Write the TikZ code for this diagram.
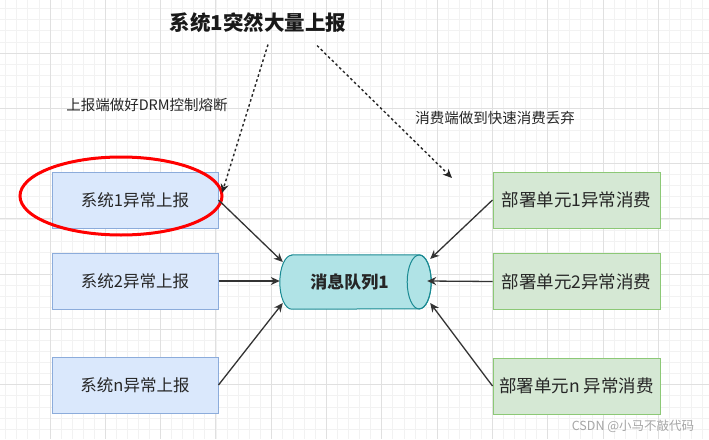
\documentclass[tikz,border=0pt]{standalone}
\usepackage{fontspec}
\setmainfont{Noto Sans CJK SC}
\usetikzlibrary{calc, arrows.meta}

\definecolor{sysfill}{HTML}{DAE8FC}
\definecolor{sysline}{HTML}{8CACDB}
\definecolor{depfill}{HTML}{D5E8D4}
\definecolor{depline}{HTML}{8CC876}
\definecolor{qfill}{HTML}{B0E3E6}
\definecolor{qline}{HTML}{1A8A93}
\definecolor{txt}{HTML}{262626}

\begin{document}
\begin{tikzpicture}[x=1pt, y=-1pt,
	minorline/.style={draw=black!5, line width=0.8pt},
	majorline/.style={draw=black!12, line width=0.9pt},
	sysbox/.style={draw=sysline, fill=sysfill, line width=1pt, minimum width=166pt, minimum height=56pt, text=txt, font=\fontsize{16.5}{18}\selectfont},
	depbox/.style={draw=depline, fill=depfill, line width=1pt, minimum width=167pt, minimum height=56pt, text=txt, font=\fontsize{17.5}{19}\selectfont},
	feed/.style={draw=black!80, line width=1.3pt, -{Stealth[length=9pt, width=8pt]}},
	hint/.style={draw=black!85, line width=1.4pt, dash pattern=on 2.6pt off 2.6pt, -{Stealth[length=9pt, width=8pt]}},
	note/.style={text=txt, font=\fontsize{14.5}{16}\selectfont}]

	\useasboundingbox (0,0) rectangle (709,439);
	\fill[white] (0,0) rectangle (709,439);
	\clip (0,0) rectangle (709,439);

	% grid
	\foreach \i in {0,...,64} \draw[minorline] ({5.76+\i*11.06},0) -- ({5.76+\i*11.06},439);
	\foreach \j in {0,...,39} \draw[minorline] (0,{8.76+\j*11.06}) -- (709,{8.76+\j*11.06});
	\foreach \i in {0,...,12} \draw[majorline] ({50+\i*55.3},0) -- ({50+\i*55.3},439);
	\foreach \j in {-1,...,7} \draw[majorline] (0,{53+\j*55.3}) -- (709,{53+\j*55.3});

	\node[text=black!90, font=\fontsize{20.5}{22}\selectfont\bfseries] (title) at (258,23) {系统1突然大量上报};
	\node[note] (drm) at (147,105) {上报端做好DRM控制熔断};
	\node[note] (drop) at (495,118) {消费端做到快速消费丢弃};

	\node[sysbox] (sys1) at (135,200) {系统1异常上报};
	\node[sysbox] (sys2) at (135,281) {系统2异常上报};
	\node[sysbox] (sysn) at (135,385) {系统n异常上报};

	\node[depbox] (dep1) at (576.5,200) {部署单元1异常消费};
	\node[depbox] (dep2) at (576.5,281.5) {部署单元2异常消费};
	\node[depbox] (depn) at (576.5,386) {部署单元n 异常消费};

	% queue body, cap drawn by hand
	\node[minimum width=139pt, minimum height=54pt, inner sep=0pt] (queue) at (349.5,282) {};
	\draw[qline, fill=qfill, line width=1pt] ($(queue.north west)+(12,0)$) -- (queue.north east)
		arc[start angle=90, end angle=-90, x radius=12pt, y radius=27pt] -- ($(queue.south west)+(12,0)$)
		arc[start angle=270, end angle=90, x radius=12pt, y radius=27pt] -- cycle;
	\draw[qline, line width=1pt] (queue.east) ellipse [x radius=12pt, y radius=27pt];
	\node[text=txt, font=\fontsize{17}{19}\selectfont\bfseries] at (queue.center) {消息队列1};

	\draw[red, line width=3pt] (121,196) ellipse [x radius=101pt, y radius=39pt];

	\coordinate (qa) at ($(queue.west)+(3,-20)$);
	\coordinate (qb) at ($(queue.west)+(0,-1)$);
	\coordinate (qc) at ($(queue.west)+(3,21)$);
	\coordinate (qd) at ($(queue.east)+(11,-23)$);
	\coordinate (qe) at ($(queue.east)+(8,-1)$);
	\coordinate (qf) at ($(queue.east)+(11,21)$);

	\draw[feed] (sys1.east) -- (qa);
	\draw[feed] (sys2.east) -- (qb);
	\draw[feed] (sysn.east) -- (qc);
	\draw[feed] (dep1.west) -- (qd);
	\draw[feed] (dep2.west) -- (qe);
	\draw[feed] (depn.west) -- (qf);

	\coordinate (ts1) at ($(title.south)+(10,8)$);
	\coordinate (ts2) at ($(title.south)+(59,9)$);
	\coordinate (tip1) at (222,193);
	\coordinate (tip2) at (452,178);
	\draw[hint] (ts1) -- (tip1);
	\draw[hint] (ts2) -- (tip2);

	\node[text=black!35, font=\fontsize{12.5}{14}\selectfont] (mark) at (633,426) {CSDN @小马不敲代码};
\end{tikzpicture}
\end{document}
